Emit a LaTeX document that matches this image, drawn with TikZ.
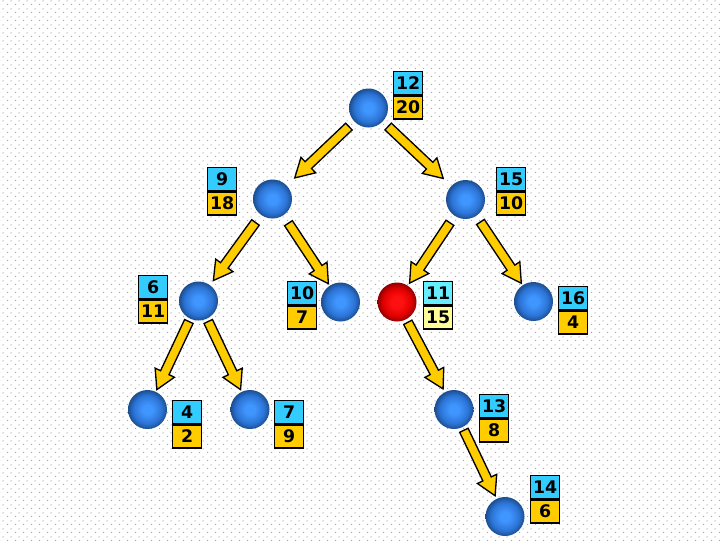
\documentclass[tikz,border=0pt]{standalone}
\usepackage{fontspec}
\setmainfont{DejaVu Sans}
\usetikzlibrary{calc,patterns}
\definecolor{bgdot}{HTML}{A8A8A8}
\definecolor{boxcyan}{HTML}{33CCFF}
\definecolor{boxorange}{HTML}{FFCC00}
\definecolor{boxlcyan}{HTML}{66EEFF}
\definecolor{boxlyellow}{HTML}{FFFF99}
\definecolor{arrowyellow}{HTML}{FFCC00}
\definecolor{bluC}{HTML}{4096FF}
\definecolor{bluM}{HTML}{2C74D6}
\definecolor{bluE}{HTML}{1B4E90}
\definecolor{redC}{HTML}{FF1010}
\definecolor{redM}{HTML}{E00000}
\definecolor{redE}{HTML}{900000}
\pgfdeclareradialshading{bluesph}{\pgfpoint{0bp}{0bp}}{color(0bp)=(bluC); color(6bp)=(bluC); color(18bp)=(bluM); color(25bp)=(bluE); color(50bp)=(bluE)}
\pgfdeclareradialshading{redsph}{\pgfpoint{0bp}{0bp}}{color(0bp)=(redC); color(7bp)=(redC); color(18bp)=(redM); color(25bp)=(redE); color(50bp)=(redE)}
\pgfdeclarepatternformonly{bgdots}{\pgfqpoint{0pt}{0pt}}{\pgfqpoint{6pt}{6pt}}{\pgfqpoint{6pt}{6pt}}{%
  \pgfpathrectangle{\pgfqpoint{0pt}{0pt}}{\pgfqpoint{0.9pt}{0.9pt}}%
  \pgfpathrectangle{\pgfqpoint{3pt}{3pt}}{\pgfqpoint{0.9pt}{0.9pt}}%
  \pgfusepath{fill}}
\tikzset{
  ball/.style={circle, minimum size=29.25pt, inner sep=0pt, shading=bluesph},
  redball/.style={circle, minimum size=29.25pt, inner sep=0pt, shading=redsph},
  numbox/.style={draw=black, line width=1pt, minimum width=21.75pt, minimum height=17.25pt,
    inner sep=0pt, font=\fontsize{13pt}{13pt}\selectfont\bfseries},
  topbox/.style={numbox, fill=boxcyan, anchor=north west},
  botbox/.style={numbox, fill=boxorange, anchor=north},
  arrowstyle/.style={draw=black, line width=1pt, fill=arrowyellow, line join=miter},
}
\newcommand\blockarr[4]{%
  \coordinate (ba-s) at ($(#1)!#3!(#2)$);
  \coordinate (ba-e) at ($(#2)!#4!(#1)$);
  \coordinate (ba-c) at ($(ba-e)!14pt!(ba-s)$);
  \draw[arrowstyle] ($(ba-s)!3.5pt!90:(ba-e)$) -- ($(ba-c)!3.5pt!-90:(ba-s)$)
    -- ($(ba-c)!8pt!-90:(ba-s)$) -- (ba-e) -- ($(ba-c)!8pt!90:(ba-s)$)
    -- ($(ba-c)!3.5pt!90:(ba-s)$) -- ($(ba-s)!3.5pt!-90:(ba-e)$) -- cycle;
}
\begin{document}
\begin{tikzpicture}[x=0.75pt, y=-0.75pt]
\useasboundingbox (0,0) rectangle (720,540);
\fill[white] (0,0) rectangle (720,540);
\fill[pattern=bgdots, pattern color=bgdot] (0,0) rectangle (720,540);

% spheres
\node[ball] (n12) at (368.5,108) {};
\node[ball] (n9) at (272.5,199) {};
\node[ball] (n15) at (465.5,199.5) {};
\node[ball] (n6) at (198.5,301) {};
\node[ball] (n10) at (340.5,302) {};
\node[redball] (n11) at (397,302) {};
\node[ball] (n16) at (533.5,301.5) {};
\node[ball] (n4) at (147.5,409.5) {};
\node[ball] (n7) at (250,409.5) {};
\node[ball] (n13) at (454,409.5) {};
\node[ball] (n14) at (505,516.5) {};

% labels
\node[topbox] (t12) at (393,71) {12};  \node[botbox] (b12) at (t12.south) {20};
\node[topbox] (t9) at (207,167) {9};   \node[botbox] (b9) at (t9.south) {18};
\node[topbox] (t15) at (496,167) {15}; \node[botbox] (b15) at (t15.south) {10};
\node[topbox] (t6) at (138,275) {6};   \node[botbox] (b6) at (t6.south) {11};
\node[topbox] (t10) at (287,281) {10}; \node[botbox] (b10) at (t10.south) {7};
\node[topbox, fill=boxlcyan] (t11) at (423,281) {11}; \node[botbox, fill=boxlyellow] (b11) at (t11.south) {15};
\node[topbox] (t16) at (558,286) {16}; \node[botbox] (b16) at (t16.south) {4};
\node[topbox] (t4) at (172,400) {4};   \node[botbox] (b4) at (t4.south) {2};
\node[topbox] (t7) at (274,400) {7};   \node[botbox] (b7) at (t7.south) {9};
\node[topbox] (t13) at (479,394) {13}; \node[botbox] (b13) at (t13.south) {8};
\node[topbox] (t14) at (530,475) {14}; \node[botbox] (b14) at (t14.south) {6};

% arrows
\blockarr{n12}{n9}{20.25pt}{23pt}
\blockarr{n12}{n15}{20.25pt}{23pt}
\blockarr{n9}{n6}{21.75pt}{19pt}
\blockarr{n9}{n10}{21.75pt}{16.5pt}
\blockarr{n15}{n11}{21pt}{17pt}
\blockarr{n15}{n16}{20.25pt}{16.5pt}
\blockarr{n6}{n4}{17pt}{16.5pt}
\blockarr{n6}{n7}{17pt}{16.5pt}
\blockarr{n11}{n13}{17.25pt}{17.5pt}
\blockarr{n13}{n14}{17.25pt}{17.25pt}
\end{tikzpicture}
\end{document}
